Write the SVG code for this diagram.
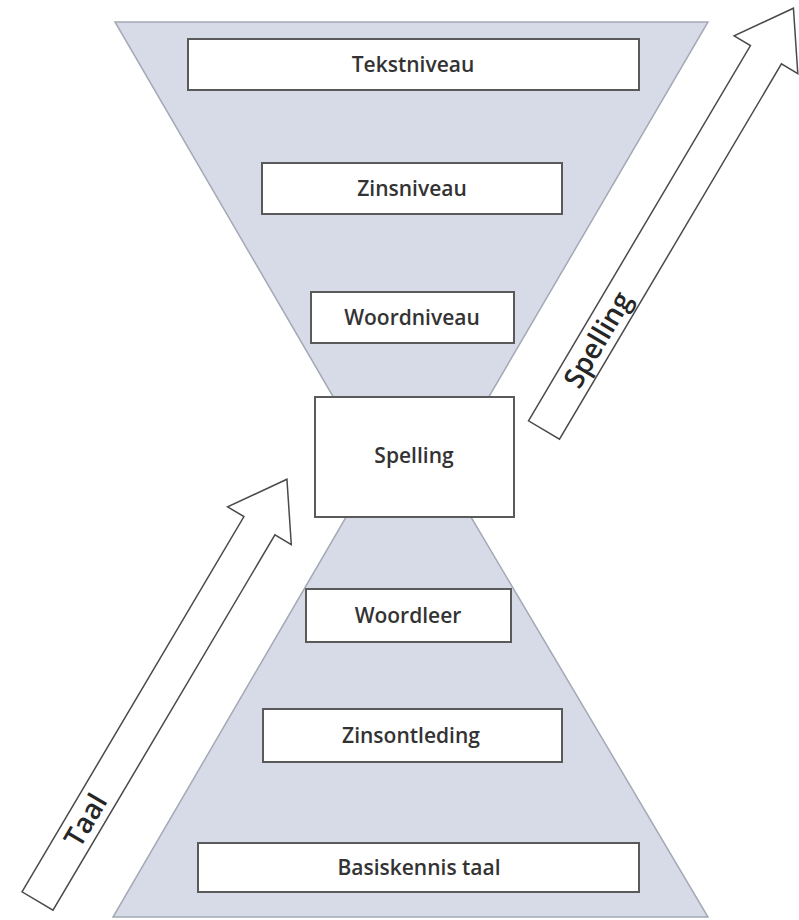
<svg xmlns="http://www.w3.org/2000/svg" width="799" height="920" viewBox="0 0 799 920">
<style>
.funnel{fill:#d6dbe7;stroke:#a3a9b5;stroke-width:1.5}
.box{fill:#ffffff;stroke:#5a5a5a;stroke-width:2}
.lbl{font-family:"Open Sans","Liberation Sans",sans-serif;font-size:21px;font-weight:600;fill:#333333;text-anchor:middle}
.arrow{fill:#ffffff;stroke:#4a4a4a;stroke-width:1.5;stroke-linejoin:miter}
.albl{font-family:"Open Sans","Liberation Sans",sans-serif;font-size:28px;font-weight:600;fill:#262626;text-anchor:middle}
</style>
<defs>
<polygon id="blockArrow" points="0,-18 436,-18 436,-37 490,0 436,37 436,18 0,18"/>
</defs>
<rect width="799" height="920" fill="#ffffff"/>
<g id="funnels">
<polygon class="funnel" points="115,22 708,22 487,400 335,400"/>
<polygon class="funnel" points="113,917 708,917 468,512 349,512"/>
</g>
<g id="connectors">
<g id="arrow-spelling" transform="translate(544,430) rotate(-59.4)">
<use href="#blockArrow" class="arrow"/>
<text class="albl" x="105" y="10">Spelling</text>
</g>
<g id="arrow-taal" transform="translate(37.5,901) rotate(-59.4)">
<use href="#blockArrow" class="arrow"/>
<text class="albl" x="94" y="10">Taal</text>
</g>
</g>
<g id="tekstniveau"><rect class="box" x="188" y="39" width="451" height="51"/><text class="lbl" x="413" y="72">Tekstniveau</text></g>
<g id="zinsniveau"><rect class="box" x="262" y="163" width="300" height="51"/><text class="lbl" x="412" y="196">Zinsniveau</text></g>
<g id="woordniveau"><rect class="box" x="311" y="292" width="203" height="51"/><text class="lbl" x="412" y="325">Woordniveau</text></g>
<g id="spelling"><rect class="box" x="315" y="397" width="199" height="120"/><text class="lbl" x="414" y="463">Spelling</text></g>
<g id="woordleer"><rect class="box" x="306" y="589" width="205" height="53"/><text class="lbl" x="408" y="623">Woordleer</text></g>
<g id="zinsontleding"><rect class="box" x="263" y="709" width="299" height="53"/><text class="lbl" x="411" y="743">Zinsontleding</text></g>
<g id="basiskennis"><rect class="box" x="198" y="843" width="441" height="49"/><text class="lbl" x="419" y="875">Basiskennis taal</text></g>
</svg>
